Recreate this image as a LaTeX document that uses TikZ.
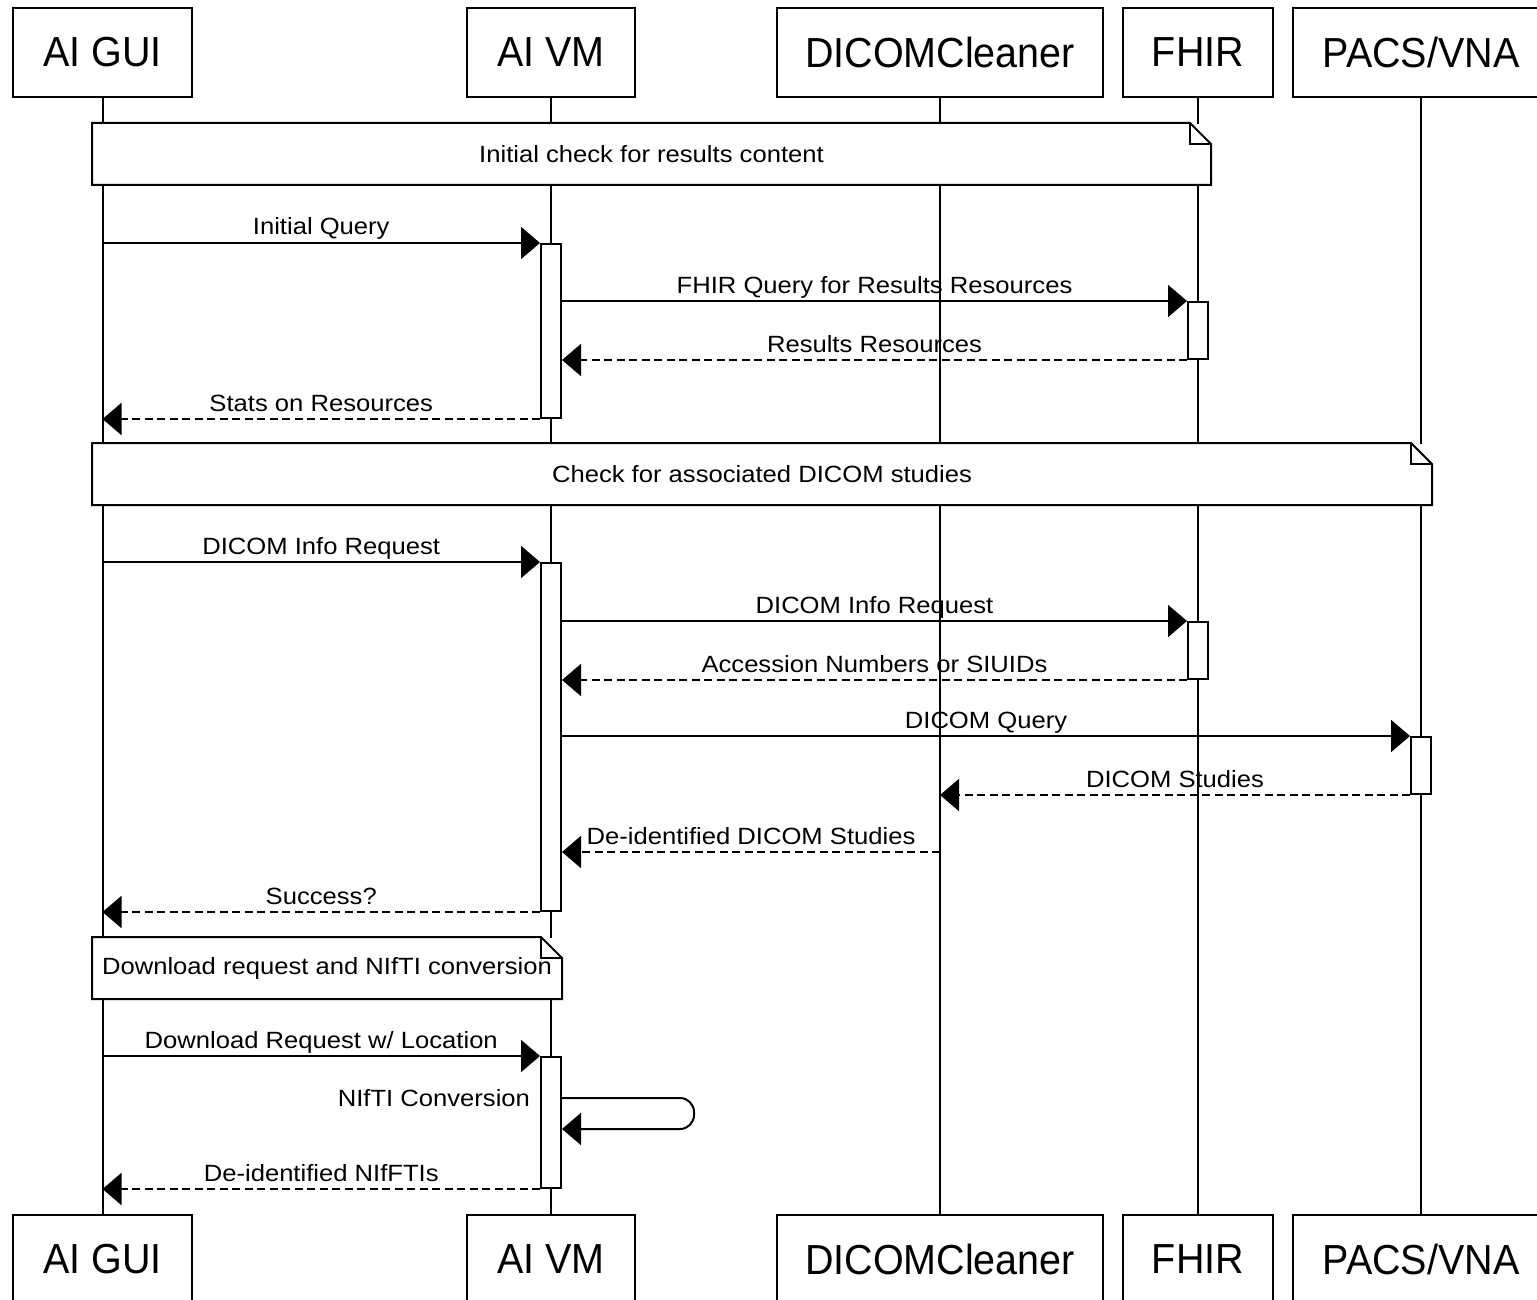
\documentclass[tikz,border=0pt]{standalone}
\usepackage{fontspec}
\setmainfont{Liberation Sans}
\newfontfamily\actorfont{Liberation Sans}[FakeStretch=0.94]
\newfontfamily\msgfont{Liberation Sans}[FakeStretch=1.09]
\usetikzlibrary{arrows.meta}

\begin{document}
\begin{tikzpicture}[x=1pt,y=-1pt,line width=2pt,
  actor/.style={draw,minimum height=89pt,inner sep=0pt,font=\actorfont\fontsize{42}{48}\selectfont},
  act/.style={draw,fill=white,minimum width=20pt,inner sep=0pt,anchor=north},
  note/.style={fill=white,inner sep=0pt,minimum height=60pt,font=\msgfont\fontsize{23.5}{28}\selectfont},
  lbl/.style={midway,anchor=base,yshift=8pt,inner sep=0pt,font=\msgfont\fontsize{23.5}{28}\selectfont},
  msg/.style={-{Triangle[length=19pt,width=32pt]}},
  ret/.style={msg,dash pattern=on 8pt off 4.5pt}]
\useasboundingbox (0,0) rectangle (1537,1300);
% participants, top and bottom
\node[actor,minimum width=179pt] (guiT) at (102.5,52.5) {AI GUI};
\node[actor,minimum width=168pt] (vmT) at (551,52.5) {AI VM};
\node[actor,minimum width=326pt] (dcT) at (940,52.5) {DICOMCleaner};
\node[actor,minimum width=150pt] (fhT) at (1198,52.5) {FHIR};
\node[actor,minimum width=256pt] (paT) at (1421,52.5) {PACS/VNA};
\node[actor,minimum width=179pt] (guiB) at (102.5,1259.5) {AI GUI};
\node[actor,minimum width=168pt] (vmB) at (551,1259.5) {AI VM};
\node[actor,minimum width=326pt] (dcB) at (940,1259.5) {DICOMCleaner};
\node[actor,minimum width=150pt] (fhB) at (1198,1259.5) {FHIR};
\node[actor,minimum width=256pt] (paB) at (1421,1259.5) {PACS/VNA};
\foreach \p in {gui,vm,dc,fh,pa}
  \draw (\p T) -- (\p B);
% notes
\node[note,minimum width=1117pt] (n1) at (651.5,154) {Initial check for results content};
\draw (n1.south west) -- (n1.north west) -- ([xshift=-21pt]n1.north east) -- ([yshift=-21pt]n1.north east) -- (n1.south east) -- cycle;
\draw ([xshift=-21pt]n1.north east) |- ([yshift=-21pt]n1.north east);
\node[note,minimum width=1338pt] (n2) at (762,474) {Check for associated DICOM studies};
\draw (n2.south west) -- (n2.north west) -- ([xshift=-21pt]n2.north east) -- ([yshift=-21pt]n2.north east) -- (n2.south east) -- cycle;
\draw ([xshift=-21pt]n2.north east) |- ([yshift=-21pt]n2.north east);
\node[note,minimum width=468pt] (n3) at (327,968) {Download request and NIfTI conversion};
\draw (n3.south west) -- (n3.north west) -- ([xshift=-21pt]n3.north east) -- ([yshift=-21pt]n3.north east) -- (n3.south east) -- cycle;
\draw ([xshift=-21pt]n3.north east) |- ([yshift=-21pt]n3.north east);
% activations
\node[act,minimum height=174pt] (vm1) at (551,243) {};
\node[act,minimum height=57pt] (fh1) at (1198,301) {};
\node[act,minimum height=348pt] (vm2) at (551,562) {};
\node[act,minimum height=57pt] (fh2) at (1198,621) {};
\node[act,minimum height=57pt] (pa1) at (1421,736) {};
\node[act,minimum height=131pt] (vm3) at (551,1056) {};
% results query
\draw[msg] (guiT |- vm1.north west) -- node[lbl] {Initial Query} (vm1.north west);
\draw[msg] (vm1.east |- fh1.north west) -- node[lbl] {FHIR Query for Results Resources} (fh1.north west);
\draw[ret] (fh1.south west) -- node[lbl] {Results Resources} (vm1.east |- fh1.south west);
\draw[ret] (vm1.south west) -- node[lbl] {Stats on Resources} (guiT |- vm1.south west);
% DICOM studies
\draw[msg] (guiT |- vm2.north west) -- node[lbl] {DICOM Info Request} (vm2.north west);
\draw[msg] (vm2.east |- fh2.north west) -- node[lbl] {DICOM Info Request} (fh2.north west);
\draw[ret] (fh2.south west) -- node[lbl] {Accession Numbers or SIUIDs} (vm2.east |- fh2.south west);
\draw[msg] (vm2.east |- pa1.north west) -- node[lbl] {DICOM Query} (pa1.north west);
\draw[ret] (pa1.south west) -- node[lbl] {DICOM Studies} (dcT |- pa1.south west);
\coordinate (cleaned) at (940,852);
\draw[ret] (cleaned) -- node[lbl] {De-identified DICOM Studies} (vm2.east |- cleaned);
\draw[ret] (vm2.south west) -- node[lbl] {Success?} (guiT |- vm2.south west);
% download and conversion
\draw[msg] (guiT |- vm3.north west) -- node[lbl] {Download Request w/ Location} (vm3.north west);
\coordinate (conv) at (551,1098);
\draw[msg,rounded corners=14pt] (vm3.east |- conv) -- ++(132,0) -- ++(0,31) -- ++(-132,0);
\node[inner sep=0pt,anchor=base east,font=\msgfont\fontsize{23.5}{28}\selectfont] (convlbl) at (531,1106) {NIfTI Conversion};
\draw[ret] (vm3.south west) -- node[lbl] {De-identified NIfFTIs} (guiT |- vm3.south west);
\end{tikzpicture}
\end{document}
